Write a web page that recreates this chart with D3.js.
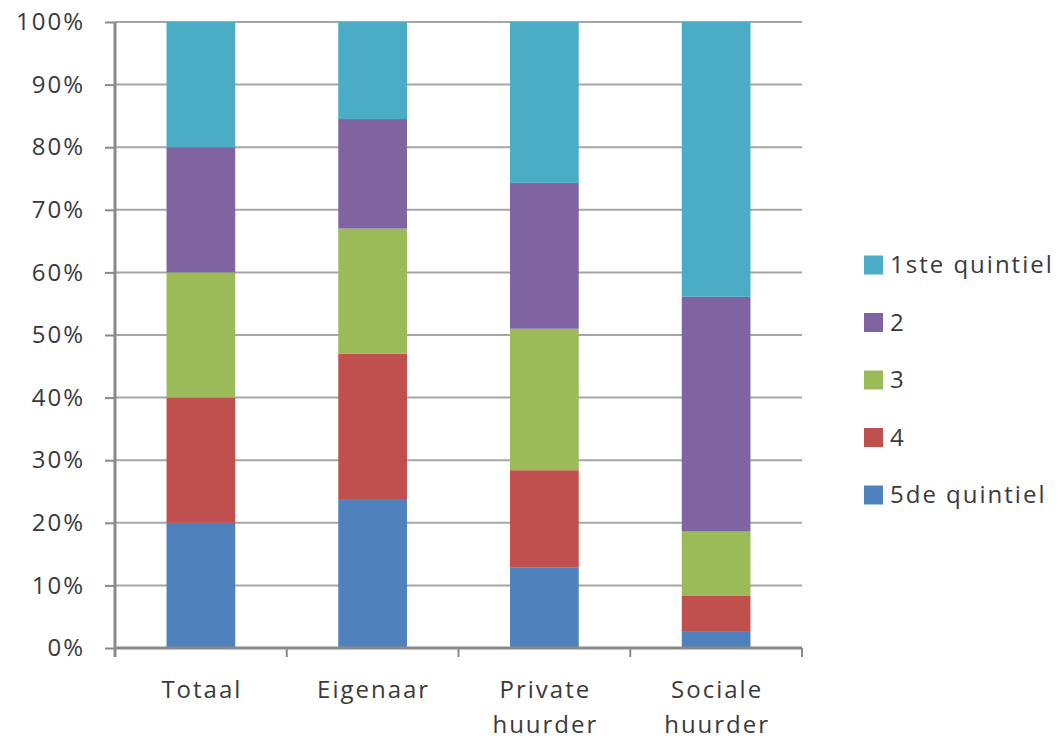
<!DOCTYPE html>
<html>
<head>
<meta charset="utf-8">
<script src="https://cdn.jsdelivr.net/npm/d3@7"></script>
<style>
  html, body { margin: 0; padding: 0; background: #ffffff; }
  svg { display: block; }
  text { font-family: "Open Sans", "Liberation Sans", sans-serif; fill: #3a3a3a; }
</style>
</head>
<body>
<svg id="chart" width="1060" height="742"></svg>
<script>
// Household categories (x axis)
const categories = ["Totaal", "Eigenaar", "Private huurder", "Sociale huurder"];

// Income quintile shares per category, in percent
const quintiel5 = [20, 23.8, 12.9, 2.7];
const quintiel4 = [20, 23.2, 15.5, 5.7];
const quintiel3 = [20, 20.0, 22.6, 10.2];
const quintiel2 = [20, 17.5, 23.3, 37.5];
const quintiel1 = [20, 15.5, 25.7, 43.9];

// Series, bottom of the stack first
const seriesNames = ["5de quintiel", "4", "3", "2", "1ste quintiel"];
const seriesValues = [quintiel5, quintiel4, quintiel3, quintiel2, quintiel1];
const seriesColors = ["#4F81BD", "#C0504D", "#9BBB59", "#8064A2", "#4BACC6"];

const yTicks = [0, 10, 20, 30, 40, 50, 60, 70, 80, 90, 100];

const rows = categories.map((c, i) => {
  const r = { cat: c };
  seriesNames.forEach((s, j) => { r[s] = seriesValues[j][i]; });
  return r;
});

const svg = d3.select("#chart");
const plotLeft = 115, plotRight = 802, plotTop = 22, plotBottom = 648;

const x = d3.scaleBand().domain(categories).range([plotLeft, plotRight])
  .paddingInner(0.6).paddingOuter(0.3);
const y = d3.scaleLinear().domain([0, 100]).range([plotBottom, plotTop]);

// Horizontal gridlines
svg.append("g").selectAll("line").data(yTicks.filter(d => d > 0)).join("line")
  .attr("x1", plotLeft).attr("x2", plotRight)
  .attr("y1", d => y(d)).attr("y2", d => y(d))
  .attr("stroke", "#a6a6a6").attr("stroke-width", 2);

// Stacked bars
const stack = d3.stack().keys(seriesNames)(rows);
svg.append("g").selectAll("g").data(stack).join("g")
  .attr("fill", (d, i) => seriesColors[i])
  .selectAll("rect").data(d => d).join("rect")
  .attr("x", d => x(d.data.cat))
  .attr("width", x.bandwidth())
  .attr("y", d => y(d[1]))
  .attr("height", d => y(d[0]) - y(d[1]));

// Y axis
const yAxis = svg.append("g").attr("transform", `translate(${plotLeft},0)`)
  .call(d3.axisLeft(y).tickValues(yTicks).tickFormat(d => d + "%").tickSize(10).tickPadding(20));
yAxis.select(".domain").attr("stroke", "#8a8a8a").attr("stroke-width", 3)
  .attr("d", `M0,${plotTop}V${plotBottom + 9}`);
yAxis.selectAll(".tick line").attr("stroke", "#8a8a8a").attr("stroke-width", 2);
yAxis.selectAll(".tick text")
  .style("font-size", "24px").style("letter-spacing", "2px")
  .attr("fill", "#3a3a3a");

// X axis with ticks at category boundaries
const xAxis = svg.append("g");
xAxis.append("line")
  .attr("x1", plotLeft).attr("x2", plotRight).attr("y1", plotBottom).attr("y2", plotBottom)
  .attr("stroke", "#8a8a8a").attr("stroke-width", 3);
xAxis.selectAll("line.tk").data(d3.range(1, categories.length + 1)).join("line")
  .attr("class", "tk")
  .attr("x1", i => plotLeft + (plotRight - plotLeft) * i / categories.length)
  .attr("x2", i => plotLeft + (plotRight - plotLeft) * i / categories.length)
  .attr("y1", plotBottom).attr("y2", plotBottom + 9)
  .attr("stroke", "#8a8a8a").attr("stroke-width", 2);

const labels = svg.append("g").selectAll("text").data(categories).join("text")
  .attr("x", d => x(d) + x.bandwidth() / 2)
  .attr("y", 698)
  .attr("text-anchor", "middle")
  .style("font-size", "24px").style("letter-spacing", "2px");
labels.each(function(d) {
  const parts = d.split(" ");
  const t = d3.select(this);
  parts.forEach((p, i) => {
    t.append("tspan").attr("x", x(d) + x.bandwidth() / 2 + 1).attr("dy", i === 0 ? 0 : 35).text(p);
  });
});

// Legend, top series first
const legendOrder = seriesNames.map((s, i) => i).reverse();
const legend = svg.append("g").selectAll("g").data(legendOrder).join("g")
  .attr("transform", (d, i) => `translate(864, ${265 + i * 57.5})`);
legend.append("rect")
  .attr("x", 0).attr("y", -9.5).attr("width", 19).attr("height", 19)
  .attr("fill", d => seriesColors[d]);
legend.append("text")
  .attr("x", 26).attr("y", 0).attr("dy", "0.35em")
  .style("font-size", "24px").style("letter-spacing", "2px")
  .text(d => seriesNames[d]);
</script>
</body>
</html>
